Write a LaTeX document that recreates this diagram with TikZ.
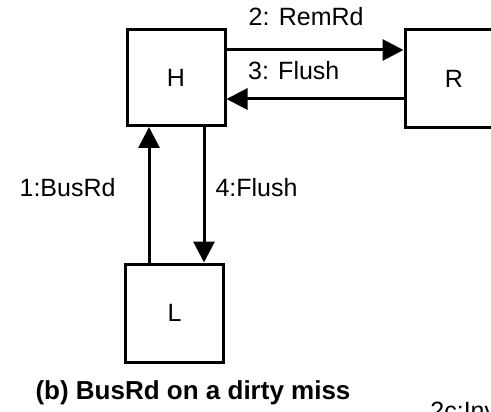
\documentclass[tikz,border=0pt]{standalone}
\usepackage{fontspec}
\setmainfont{Liberation Sans}
\usetikzlibrary{positioning, arrows.meta, calc}

\tikzset{
  unit/.style={draw, line width=1.5pt, minimum width=49pt, minimum height=48pt,
    font=\fontsize{12.5}{14}\selectfont},
  flow/.style={line width=1.5pt, -{Triangle[length=10.5pt,width=10.5pt]}},
  msg/.style={font=\fontsize{12.5}{14}\selectfont, inner sep=1pt}
}

\begin{document}
\begin{tikzpicture}[x=0.5pt, y=-0.5pt]
  \clip (0,0) rectangle (491,411);

  % Caches
  \node[unit] (H) at (176,77.5) {H};
  \node[unit, minimum height=49pt] (R) at (454,79) {R};
  \node[unit, minimum height=49pt] (L) at (174.5,313) {L};

  % H <-> R
  \draw[flow] ([yshift=13.75pt]H.east) -- ([yshift=13.75pt]H.east -| R.west)
    node[msg, pos=0.45, above=10.5pt] {2: RemRd};
  \draw[flow] ([yshift=-10pt]R.west) -- ([yshift=-10pt]R.west -| H.east)
    node[msg, pos=0.62, above=8pt] {3: Flush};

  % L <-> H
  \draw[flow] ([xshift=-12.75pt]L.north) -- ([xshift=-12.75pt]L.north |- H.south)
    node[msg, pos=0.55, left=15pt] {1:BusRd};
  \draw[flow] ([xshift=14pt]H.south) -- ([xshift=14pt]H.south |- L.north)
    node[msg, pos=0.45, right=4pt] {4:Flush};

  % Caption
  \node[font=\fontsize{13}{15}\selectfont\bfseries] (cap) at (193,393) {(b) BusRd on a dirty miss};
  \node[msg, anchor=north west] (next) at (428,400) {2c:Inv};
\end{tikzpicture}
\end{document}
